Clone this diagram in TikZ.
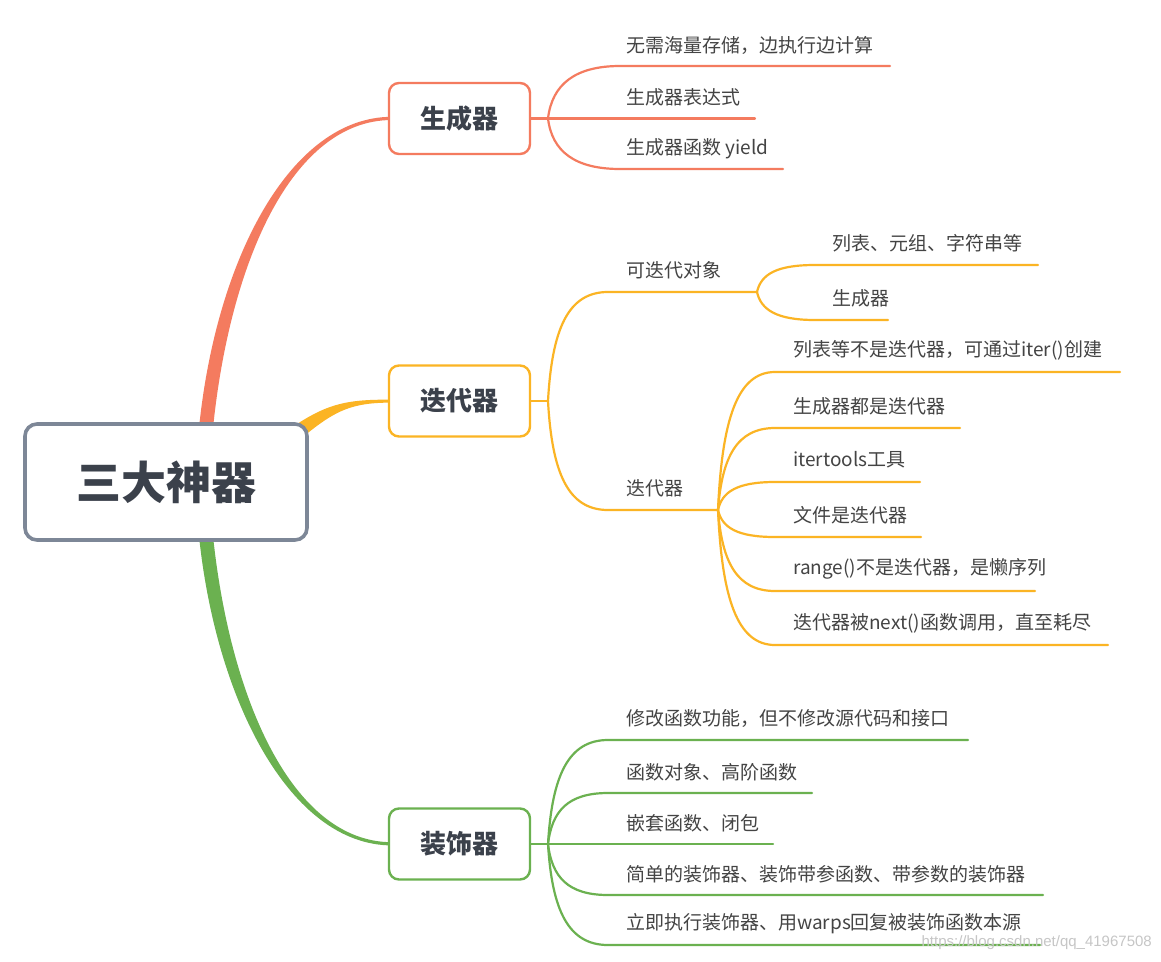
\documentclass[tikz,border=0pt]{standalone}
\usepackage{fontspec}
\setmainfont{Noto Sans CJK SC}
\newfontfamily\wmfont{Liberation Sans}
\definecolor{cred}{HTML}{F47B5F}
\definecolor{corange}{HTML}{FBB424}
\definecolor{cgreen}{HTML}{6BB150}
\definecolor{rootborder}{HTML}{7D8797}
\definecolor{boxtext}{HTML}{3B414B}
\definecolor{childtext}{HTML}{444444}
\tikzset{
  child/.style={anchor=west, inner sep=0pt, text=childtext, font=\fontsize{19}{19}\selectfont},
  topic/.style={draw, fill=white, rounded corners=10pt, line width=2.4pt, minimum width=141pt, minimum height=71pt, text=boxtext, font=\fontsize{26}{26}\selectfont\bfseries},
  rootbox/.style={draw=rootborder, fill=white, rounded corners=12pt, line width=3.6pt, minimum width=282pt, minimum height=116pt, text=boxtext, font=\fontsize{45}{45}\selectfont\bfseries},
  br/.style={line width=2.2pt, line cap=round}
}
\begin{document}
\begin{tikzpicture}[x=1pt,y=-1pt]
\useasboundingbox (0,0) rectangle (1161,961);
\fill[white] (0,0) rectangle (1161,961);

% trunks
\fill[cred] (199,428) .. controls (216,260) and (290,116.8) .. (392,116.8) -- (392,120) .. controls (292,120) and (230,262) .. (213,428) -- cycle;
\fill[corange] (294,426) .. controls (330,402) and (350,399.6) .. (392,399.6) -- (392,402.6) .. controls (352,402.6) and (336,410) .. (304,436) -- cycle;
\fill[cgreen] (199,536) .. controls (216,700) and (290,845.4) .. (392,845.4) -- (392,842.2) .. controls (292,842.2) and (230,698) .. (213,536) -- cycle;

% root
\node[rootbox] (root) at (166,482) {三大神器};

% topics
\node[topic, draw=cred] (gen) at (459.5,118.5) {生成器};
\node[topic, draw=corange] (itr) at (459.5,401) {迭代器};
\node[topic, draw=cgreen] (dec) at (459.5,844) {装饰器};

% ---------- generator ----------
\coordinate (gb) at (548,118.5);
\draw[br, cred] (gen.east) -- (gb);
\coordinate (g1s) at (620,66);  \coordinate (g1e) at (890,66);
\coordinate (g2e) at (755,118.5);
\coordinate (g3s) at (620,169); \coordinate (g3e) at (783,169);
\draw[br, cred] (gb) .. controls +(4,-34) and +(-45,0) .. (g1s) -- (g1e);
\draw[br, cred] (gb) -- (g2e);
\draw[br, cred] (gb) .. controls +(4,33) and +(-45,0) .. (g3s) -- (g3e);
\node[child] (g1) at (626,45) {无需海量存储，边执行边计算};
\node[child] (g2) at (626,97) {生成器表达式};
\node[child] (g3) at (626,149) {生成器函数 yield};

% ---------- iterator ----------
\coordinate (ib) at (548,401);
\draw[br, corange] (itr.east) -- (ib);
\coordinate (ias) at (608,292); \coordinate (iab) at (757,292);
\coordinate (ibs) at (608,510); \coordinate (ibb) at (718,510);
\draw[br, corange] (ib) .. controls +(4,-72) and +(-40,0) .. (ias) -- (iab);
\draw[br, corange] (ib) .. controls +(4,72) and +(-40,0) .. (ibs) -- (ibb);
\node[child] (ia) at (626,270) {可迭代对象};
\node[child] (ibn) at (626,488) {迭代器};

% iterable children
\coordinate (ia1s) at (815,265); \coordinate (ia1e) at (1038,265);
\coordinate (ia2s) at (815,320); \coordinate (ia2e) at (888,320);
\draw[br, corange] (iab) .. controls +(4,-18) and +(-38,0) .. (ia1s) -- (ia1e);
\draw[br, corange] (iab) .. controls +(4,18) and +(-38,0) .. (ia2s) -- (ia2e);
\node[child] (ia1) at (832,243) {列表、元组、字符串等};
\node[child] (ia2) at (832,298) {生成器};

% iterator children
\foreach \y/\e/\t [count=\i] in {
  372/1120/{列表等不是迭代器，可通过iter()创建},
  428/960/{生成器都是迭代器},
  482/920/{itertools工具},
  537/921/{文件是迭代器},
  591/1035/{range()不是迭代器，是懒序列},
  645/1108/{迭代器被next()函数调用，直至耗尽}}{
  \coordinate (ic\i s) at (775,\y);
  \coordinate (ic\i e) at (\e,\y);
  \draw[br, corange] (ibb) .. controls +(4,{0.65*(\y-510)}) and +(-38,0) .. (ic\i s) -- (ic\i e);
  \node[child] (ic\i) at (793,\y-22) {\t};
}

% ---------- decorator ----------
\coordinate (db) at (548,844);
\draw[br, cgreen] (dec.east) -- (db);
\foreach \y/\e/\t [count=\i] in {
  740/968/{修改函数功能，但不修改源代码和接口},
  793/812/{函数对象、高阶函数},
  844/773/{嵌套函数、闭包},
  895/1043/{简单的装饰器、装饰带参函数、带参数的装饰器},
  945/1040/{立即执行装饰器、用warps回复被装饰函数本源}}{
  \coordinate (dc\i s) at (608,\y);
  \coordinate (dc\i e) at (\e,\y);
  \draw[br, cgreen] (db) .. controls +(4,{0.65*(\y-844)}) and +(-40,0) .. (dc\i s) -- (dc\i e);
  \node[child] (dc\i) at (626,\y-21) {\t};
}

% watermark
\node[anchor=east, inner sep=0pt, text=gray!45, font=\wmfont\fontsize{15}{15}\selectfont] (wm) at (1152,943) {https://blog.csdn.net/qq\_41967508};
\end{tikzpicture}
\end{document}
